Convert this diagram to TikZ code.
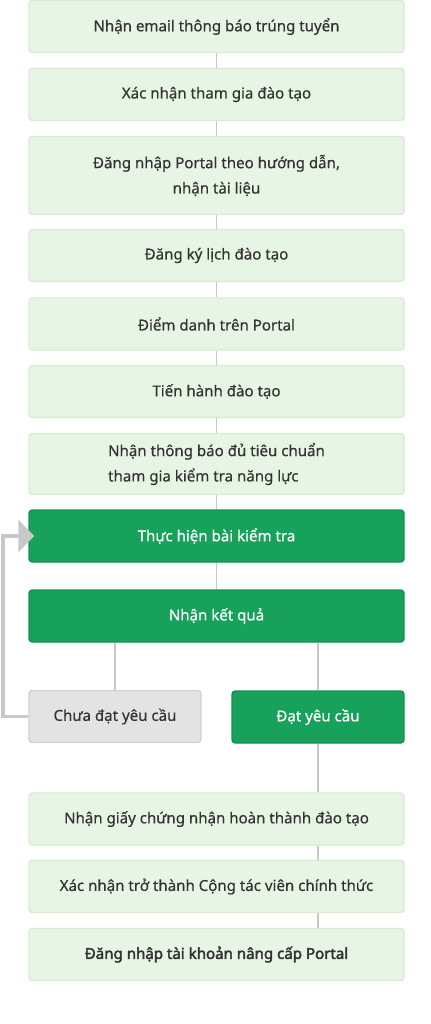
\documentclass[tikz,border=0pt]{standalone}
\usepackage{fontspec}
\setmainfont{Noto Sans}[FakeBold=0.5]
\newfontfamily\heavyfont{Noto Sans}[FakeBold=2.6]
\usepackage{tikz}
\usetikzlibrary{arrows.meta}

\definecolor{lightfill}{HTML}{E7F6E4}
\definecolor{lightline}{HTML}{D9EAD5}
\definecolor{darkfill}{HTML}{17A15A}
\definecolor{greyfill}{HTML}{E3E3E3}
\definecolor{linkgrey}{HTML}{C8C8C8}
\definecolor{textgrey}{HTML}{333333}

\begin{document}
\begin{tikzpicture}[x=0.75pt, y=-0.75pt, font=\fontsize{11.3}{19}\selectfont]
			\tikzstyle{stepbox} = [draw=lightline, fill=lightfill, text=textgrey, rounded corners=2.5pt, minimum width=281.25pt, minimum height=39pt, inner sep=0pt, align=center]
			\tikzstyle{darkbox} = [stepbox, draw=darkfill!90!black, fill=darkfill, text=white]
			\tikzstyle{halfbox} = [stepbox, minimum width=129pt]
			\tikzstyle{link} = [draw=linkgrey, line width=1.1pt]
			\tikzstyle{back} = [draw=linkgrey, line width=2.4pt, -{Triangle[length=12pt, width=24pt]}]
			\useasboundingbox (0,0) rectangle (431,1024);
			\begin{scope}
			\path[link]

			node[stepbox] (mail) at (216.5,26.5) {Nhận email thông báo trúng tuyển}
			node[stepbox] (join) at (216.5,94.5) {Xác nhận tham gia đào tạo}
			node[stepbox, minimum height=58.5pt] (login) at (216.5,175.5) {Đăng nhập Portal theo hướng dẫn,\\nhận tài liệu}
			node[stepbox] (sched) at (216.5,255.5) {Đăng ký lịch đào tạo}
			node[stepbox] (check) at (216.5,324) {Điểm danh trên Portal}
			node[stepbox] (train) at (216.5,391.5) {Tiến hành đào tạo}
			node[stepbox, minimum height=45.75pt, align=left] (notice) at (216.5,464) {Nhận thông báo đủ tiêu chuẩn\\tham gia kiểm tra năng lực}
			node[darkbox] (test) at (216.5,536) {Thực hiện bài kiểm tra}
			node[darkbox] (result) at (216.5,616) {Nhận kết quả}
			node[halfbox, draw=greyfill!92!black, fill=greyfill] (fail) at (115,716.5) {Chưa đạt yêu cầu}
			node[halfbox, darkbox, minimum width=129pt] (pass) at (318,717) {Đạt yêu cầu}
			node[stepbox] (cert) at (216.5,819) {Nhận giấy chứng nhận hoàn thành đào tạo}
			node[stepbox] (member) at (216.5,886.5) {Xác nhận trở thành Cộng tác viên chính thức}
			node[stepbox] (upgrade) at (216.5,954.5) {\heavyfont Đăng nhập tài khoản nâng cấp Portal}

			(mail) edge (join)
			(join) edge (login)
			(login) edge (sched)
			(sched) edge (check)
			(check) edge (train)
			(train) edge (notice)
			(notice) edge (test)
			(test) edge (result)
			(result.south -| fail) edge (fail)
			(result.south -| pass) edge (pass)
			(pass) edge (cert.north -| pass)
			(cert.south -| pass) edge (member.north -| pass)
			(member.south -| pass) edge (upgrade.north -| pass)
			;
			\end{scope}

			% retry loop
			\coordinate (side) at (3,0);
			\draw[back] (fail.west) -- (fail.west -| side) |- ([xshift=4.5pt]test.west);

			\end{tikzpicture}
\end{document}
